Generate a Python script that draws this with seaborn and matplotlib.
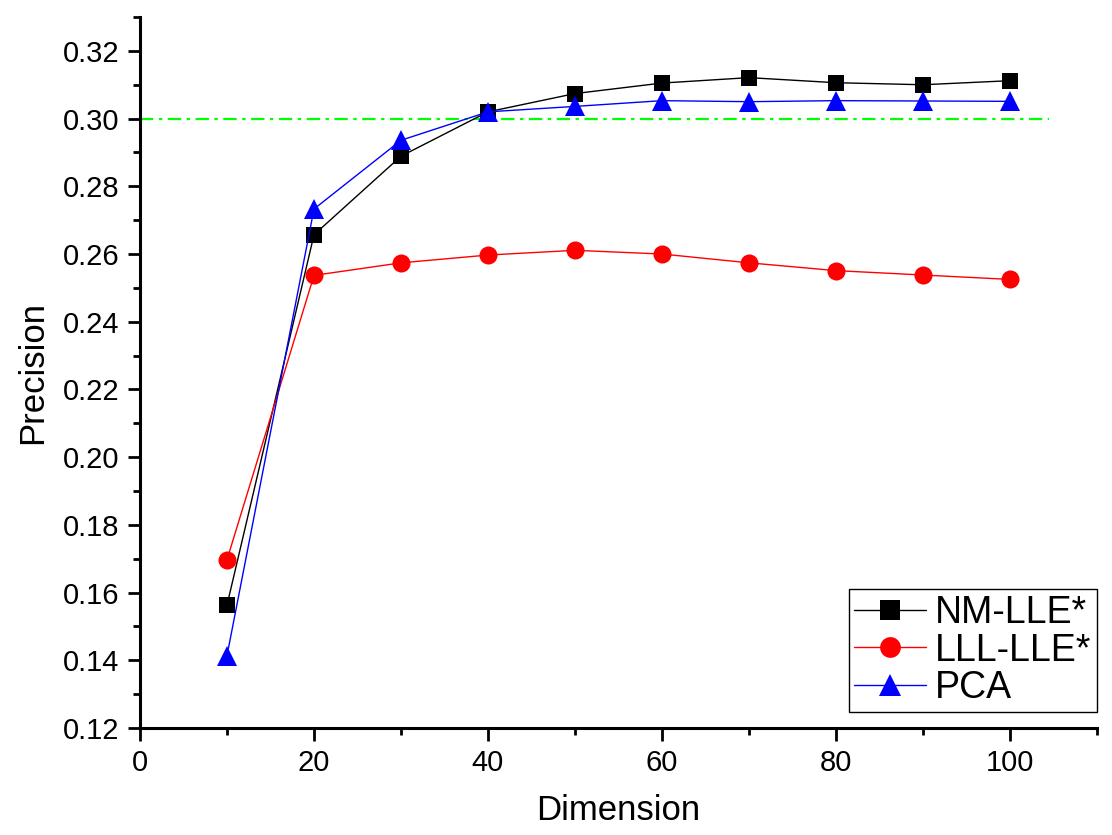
import pandas as pd
import matplotlib
matplotlib.use('Agg')
import matplotlib.pyplot as plt
import seaborn as sns
from matplotlib.ticker import MultipleLocator

# values
dims = [10, 20, 30, 40, 50, 60, 70, 80, 90, 100]
nm_lle = [0.1563, 0.2657, 0.2889, 0.3020, 0.3074, 0.3105, 0.3121, 0.3106, 0.3100, 0.3112]
lll_lle = [0.1697, 0.2537, 0.2574, 0.2597, 0.2611, 0.2600, 0.2574, 0.2551, 0.2538, 0.2525]
pca = [0.1414, 0.2733, 0.2936, 0.3020, 0.3036, 0.3053, 0.3050, 0.3053, 0.3052, 0.3051]
methods = ['NM-LLE*', 'LLL-LLE*', 'PCA']
baseline = 0.30

df = pd.DataFrame({
    'Dimension': dims * 3,
    'Precision': nm_lle + lll_lle + pca,
    'method': [m for m in methods for _ in dims],
})

sns.set_style('ticks')
plt.rcParams['font.family'] = ['Liberation Sans', 'DejaVu Sans']
plt.rcParams['text.color'] = 'black'
plt.rcParams['axes.labelcolor'] = 'black'
plt.rcParams['xtick.color'] = 'black'
plt.rcParams['ytick.color'] = 'black'
plt.rcParams['axes.edgecolor'] = 'black'

fig = plt.figure(figsize=(11.12, 8.35), dpi=100)
ax = fig.add_axes([0.1259, 0.1281, 0.8606, 0.8515])

colors = {'NM-LLE*': 'black', 'LLL-LLE*': 'red', 'PCA': 'blue'}
marks = {'NM-LLE*': 's', 'LLL-LLE*': 'o', 'PCA': '^'}
sizes = {'NM-LLE*': 12, 'LLL-LLE*': 13, 'PCA': 14}

for m in methods:
    sub = df[df['method'] == m]
    sns.lineplot(data=sub, x='Dimension', y='Precision', ax=ax, color=colors[m],
                 marker=marks[m], markersize=sizes[m], markeredgewidth=0,
                 linewidth=1, label=m, zorder=3)

ax.plot([0, 104.5], [baseline, baseline], color='#00ff00', linewidth=1.6,
        linestyle=(0, (6, 2.5, 1.5, 2.5)), zorder=2)

ax.set_xlim(0, 110)
ax.set_ylim(0.12, 0.33)
ax.xaxis.set_major_locator(MultipleLocator(20))
ax.xaxis.set_minor_locator(MultipleLocator(10))
ax.yaxis.set_major_locator(MultipleLocator(0.02))
ax.yaxis.set_minor_locator(MultipleLocator(0.01))
ax.yaxis.set_major_formatter(plt.FormatStrFormatter('%.2f'))

sns.despine(ax=ax)
for s in ['left', 'bottom']:
    ax.spines[s].set_linewidth(2.2)
ax.tick_params(which='major', length=9, width=2, labelsize=21, pad=6, direction='out',
               colors='black')
ax.tick_params(which='minor', length=5, width=2, direction='out', colors='black')

ax.set_xlabel('Dimension', fontsize=25, labelpad=12)
ax.set_ylabel('Precision', fontsize=25, labelpad=10)

leg = ax.legend(loc='lower right', bbox_to_anchor=(1.0, 0.0225), fontsize=27,
                frameon=True, fancybox=False, handlelength=1.9, handletextpad=0.25,
                borderpad=0.15, labelspacing=0.05, borderaxespad=0.0, markerscale=1.15)
leg.get_frame().set_edgecolor('black')
leg.get_frame().set_linewidth(1)
leg.get_frame().set_alpha(1)

fig.savefig('out.png', dpi=100)
